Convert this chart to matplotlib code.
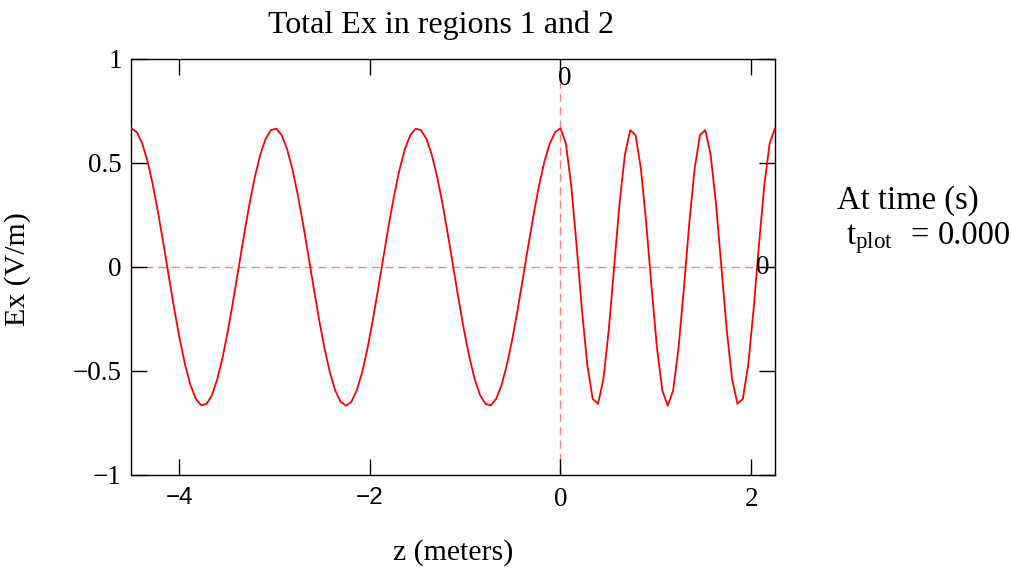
import matplotlib
matplotlib.use("Agg")
import matplotlib.pyplot as plt

# ---- data ----
z_m = [-4.5, -4.44375, -4.3875, -4.33125, -4.275, -4.21875, -4.1625, -4.10625, -4.05, -3.99375,
       -3.9375, -3.88125, -3.825, -3.76875, -3.7125, -3.65625, -3.6, -3.54375, -3.4875, -3.43125,
       -3.375, -3.31875, -3.2625, -3.20625, -3.15, -3.09375, -3.0375, -2.98125, -2.925, -2.86875,
       -2.8125, -2.75625, -2.7, -2.64375, -2.5875, -2.53125, -2.475, -2.41875, -2.3625, -2.30625,
       -2.25, -2.19375, -2.1375, -2.08125, -2.025, -1.96875, -1.9125, -1.85625, -1.8, -1.74375,
       -1.6875, -1.63125, -1.575, -1.51875, -1.4625, -1.40625, -1.35, -1.29375, -1.2375, -1.18125,
       -1.125, -1.06875, -1.0125, -0.95625, -0.9, -0.84375, -0.7875, -0.73125, -0.675, -0.61875,
       -0.5625, -0.50625, -0.45, -0.39375, -0.3375, -0.28125, -0.225, -0.16875, -0.1125, -0.05625,
       0.0, 0.05625, 0.1125, 0.16875, 0.225, 0.28125, 0.3375, 0.39375, 0.45, 0.50625,
       0.5625, 0.61875, 0.675, 0.73125, 0.7875, 0.84375, 0.9, 0.95625, 1.0125, 1.06875,
       1.125, 1.18125, 1.2375, 1.29375, 1.35, 1.40625, 1.4625, 1.51875, 1.575, 1.63125,
       1.6875, 1.74375, 1.8, 1.85625, 1.9125, 1.96875, 2.025, 2.08125, 2.1375, 2.19375,
       2.25]

ex_vm = [0.667, 0.648, 0.594, 0.507, 0.392, 0.255, 0.104, -0.052, -0.206, -0.348,
         -0.471, -0.568, -0.634, -0.665, -0.658, -0.616, -0.539, -0.433, -0.303, -0.156,
         0.0, 0.156, 0.303, 0.433, 0.539, 0.616, 0.658, 0.665, 0.634, 0.568,
         0.471, 0.348, 0.206, 0.052, -0.104, -0.255, -0.392, -0.507, -0.594, -0.648,
         -0.667, -0.648, -0.594, -0.507, -0.392, -0.255, -0.104, 0.052, 0.206, 0.348,
         0.471, 0.568, 0.634, 0.665, 0.658, 0.616, 0.539, 0.433, 0.303, 0.156,
         0.0, -0.156, -0.303, -0.433, -0.539, -0.616, -0.658, -0.665, -0.634, -0.568,
         -0.471, -0.348, -0.206, -0.052, 0.104, 0.255, 0.392, 0.507, 0.594, 0.648,
         0.667, 0.594, 0.392, 0.104, -0.206, -0.471, -0.634, -0.658, -0.539, -0.303,
         0.0, 0.303, 0.539, 0.658, 0.634, 0.471, 0.206, -0.104, -0.392, -0.594,
         -0.667, -0.594, -0.392, -0.104, 0.206, 0.471, 0.634, 0.658, 0.539, 0.303,
         0.0, -0.303, -0.539, -0.658, -0.634, -0.471, -0.206, 0.104, 0.392, 0.594,
         0.667]

x_ticks = [-4, -2, 0, 2]
x_tick_labels = ["\u22124", "\u22122", "0", "2"]
y_ticks = [-1, -0.5, 0, 0.5, 1]
y_tick_labels = ["\u22121", "\u22120.5", "0", "0.5", "1"]

title_text = "Total Ex in regions 1 and 2"
xlabel_text = "z (meters)"
ylabel_text = "Ex (V/m)"
time_label = "At time (s)"
time_name = r"$\mathrm{t_{plot}}$"
time_value = "0.000"

# ---- style ----
plt.rcParams["font.family"] = ["Liberation Serif", "DejaVu Serif"]
plt.rcParams["mathtext.fontset"] = "custom"
plt.rcParams["mathtext.rm"] = "Liberation Serif"
plt.rcParams["mathtext.it"] = "Liberation Serif:italic"

W, H = 1012, 571
fig = plt.figure(figsize=(W / 100, H / 100), dpi=100)
L, R, T, B = 131.5, 775, 59, 475
ax = fig.add_axes([L / W, 1 - B / H, (R - L) / W, (B - T) / H])

ax.set_xlim(-4.5, 2.25)
ax.set_ylim(-1, 1)

dash_col = "#ff7f7f"
ax.axhline(0, color=dash_col, lw=1.0, dashes=(6, 3.6), zorder=1)
ax.axvline(0, color=dash_col, lw=1.0, dashes=(6, 3.6), zorder=1)

ax.plot(z_m, ex_vm, color="#ff0000", lw=1.3, zorder=3)

for s in ax.spines.values():
    s.set_linewidth(1.0)
    s.set_color("black")

ax.set_xticks(x_ticks)
ax.set_xticklabels(x_tick_labels)
ax.set_yticks(y_ticks)
ax.set_yticklabels(y_tick_labels)
ax.tick_params(axis="both", direction="in", length=11.5, width=1.0,
               top=True, right=True, labelsize=19.5, colors="black")
ax.tick_params(axis="x", pad=9)
ax.tick_params(axis="y", pad=7)
for lbl in ax.get_xticklabels():
    if lbl.get_text().startswith("\u2212"):
        lbl.set_fontfamily("Liberation Sans")
        lbl.set_fontsize(17.5)

# zero markers
ax.text(-0.03, 0.952, "0", transform=ax.get_xaxis_transform(), ha="left",
        va="center", fontsize=19.5)
ax.text(0.9907, 0, "0", transform=ax.get_yaxis_transform(), ha="right",
        va="center", fontsize=19.5)

fig.text(441.5 / W, 1 - 25 / H, title_text, ha="center", va="center", fontsize=23)
fig.text(453 / W, 1 - 553 / H, xlabel_text, ha="center", va="center", fontsize=21.5)
fig.text(18 / W, 1 - 269 / H, ylabel_text, ha="center", va="center",
         rotation=90, fontsize=21.5)
fig.text(837 / W, 1 - 209 / H, time_label, ha="left", va="baseline", fontsize=23.5)
fig.text(846 / W, 1 - 244 / H, time_name, ha="left", va="baseline", fontsize=23.5)
fig.text(920 / W, 1 - 244 / H, "=", ha="center", va="baseline", fontsize=23.5)
fig.text(938 / W, 1 - 244 / H, time_value, ha="left", va="baseline", fontsize=23.5)

fig.savefig("out.png", dpi=100)
